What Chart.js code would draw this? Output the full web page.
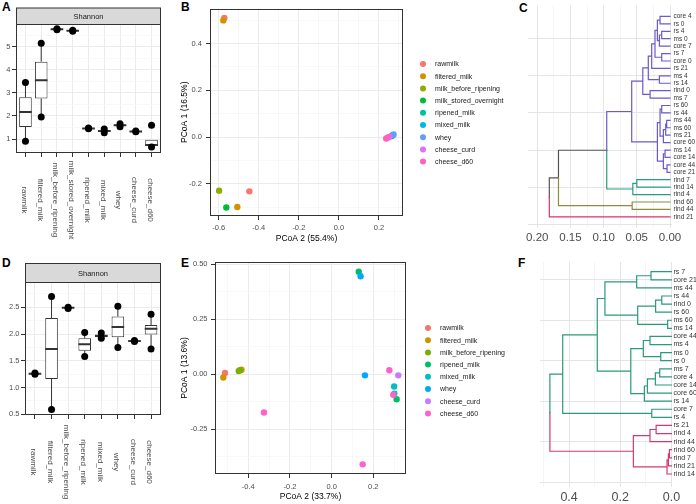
<!DOCTYPE html>
<html>
<head>
<meta charset="utf-8">
<script src="https://cdn.jsdelivr.net/npm/chart.js@4.4.0/dist/chart.umd.min.js"></script>
<style>
  body { margin: 0; width: 696px; height: 504px; position: relative; background: #fff; overflow: hidden;
         font-family: 'Liberation Sans', Arial, sans-serif; }
  canvas { position: absolute; }
  .tag { position: absolute; font-weight: bold; font-size: 12px; line-height: 1; color: #000; }
</style>
</head>
<body>
<div class="tag" style="left:2px;top:1px">A</div>
<div class="tag" style="left:181px;top:1px">B</div>
<div class="tag" style="left:519px;top:2px">C</div>
<div class="tag" style="left:2px;top:257px">D</div>
<div class="tag" style="left:181px;top:257px">E</div>
<div class="tag" style="left:518px;top:257px">F</div>

<canvas id="chartA" width="175" height="250" style="left:0;top:0"></canvas>
<canvas id="chartB" width="340" height="250" style="left:180px;top:0"></canvas>
<canvas id="chartC" width="186" height="250" style="left:510px;top:0"></canvas>
<canvas id="chartD" width="175" height="254" style="left:0;top:250px"></canvas>
<canvas id="chartE" width="340" height="254" style="left:180px;top:250px"></canvas>
<canvas id="chartF" width="186" height="254" style="left:510px;top:250px"></canvas>

<script>
// ---- A: Shannon, first sample set ----
const aGroups = ['rawmilk', 'filtered_milk', 'milk_before_ripening', 'milk_stored_overnight',
                 'ripened_milk', 'mixed_milk', 'whey', 'cheese_curd', 'cheese_d60'];
const aLow  = [0.90, 1.95, 5.73, 5.67, 1.44, 1.27, 1.53, 1.31, 0.66];
const aQ1   = [1.52, 2.75, 5.74, 5.68, 1.45, 1.31, 1.56, 1.32, 0.70];
const aMed  = [2.17, 3.55, 5.75, 5.69, 1.46, 1.35, 1.60, 1.33, 0.74];
const aQ3   = [2.81, 4.35, 5.76, 5.70, 1.47, 1.39, 1.63, 1.34, 0.97];
const aHigh = [3.45, 5.15, 5.77, 5.71, 1.48, 1.43, 1.66, 1.35, 0.97];
const aPoints = [[0.90, 3.45], [1.95, 5.15], [5.73, 5.77], [5.67, 5.71], [1.44, 1.48],
                 [1.27, 1.43], [1.53, 1.66], [1.31, 1.35], [0.66, 1.60]];
const aYMajor = [1, 2, 3, 4, 5];
const aYMinor = [0.5, 1.5, 2.5, 3.5, 4.5, 5.5];

// ---- D: Shannon, second sample set ----
const dGroups = ['rawmilk', 'filtered_milk', 'milk_before_ripening', 'ripened_milk',
                 'mixed_milk', 'whey', 'cheese_curd', 'cheese_d60'];
const dLow  = [1.25, 0.59, 2.48, 1.58, 1.92, 1.75, 1.86, 1.72];
const dQ1   = [1.255, 1.16, 2.485, 1.69, 1.94, 1.94, 1.865, 1.99];
const dMed  = [1.26, 1.72, 2.49, 1.81, 1.965, 2.13, 1.87, 2.10];
const dQ3   = [1.265, 2.30, 2.495, 1.92, 1.99, 2.33, 1.875, 2.17];
const dHigh = [1.27, 2.70, 2.50, 2.03, 2.02, 2.52, 1.88, 2.37];
const dPoints = [[1.25, 1.27], [0.59, 2.70], [2.48, 2.50], [1.58, 2.03],
                 [1.92, 2.02], [1.75, 2.52], [1.86, 1.88], [1.72, 2.37]];
const dYMajor = [0.5, 1.0, 1.5, 2.0, 2.5];
const dYMinor = [0.75, 1.25, 1.75, 2.25, 2.75];

// ---- B: PCoA, first sample set ----
const bGroups = ['rawmilk', 'filtered_milk', 'milk_before_ripening', 'milk_stored_overnight',
                 'ripened_milk', 'mixed_milk', 'whey', 'cheese_curd', 'cheese_d60'];
const bColors = ['#F8766D', '#D39200', '#93AA00', '#00BA38', '#00C19F', '#00B9E3', '#619CFF', '#DB72FB', '#FF61C3'];
const bPcoa2 = [[-0.572, -0.447], [-0.577, -0.507], [-0.598], [-0.562], [0.262], [0.268], [0.273], [0.252], [0.236, 0.245]];
const bPcoa1 = [[0.510, -0.232], [0.499, -0.299], [-0.229], [-0.301], [0.004], [0.008], [0.011], [0.001], [-0.006, -0.002]];
const bXMajor = [-0.6, -0.4, -0.2, 0.0, 0.2];
const bXMinor = [-0.5, -0.3, -0.1, 0.1, 0.3];
const bYMajor = [-0.2, 0.0, 0.2, 0.4];
const bYMinor = [-0.3, -0.1, 0.1, 0.3, 0.5];

// ---- E: PCoA, second sample set ----
const eGroups = ['rawmilk', 'filtered_milk', 'milk_before_ripening', 'ripened_milk',
                 'mixed_milk', 'whey', 'cheese_curd', 'cheese_d60'];
const eColors = ['#F8766D', '#CD9600', '#7CAE00', '#00BE67', '#00BFC4', '#00A9FF', '#C77CFF', '#FF61CC'];
const ePcoa2 = [[-0.512], [-0.520, -0.433], [-0.446, -0.440], [0.130, 0.312], [0.300, 0.301],
                [0.139, 0.160], [0.320], [-0.325, 0.149, 0.277, 0.296]];
const ePcoa1 = [[0.006], [-0.015, 0.021], [0.015, 0.018], [0.467, -0.114], [-0.056, -0.088],
                [0.446, -0.005], [-0.005], [-0.174, -0.410, 0.018, -0.093]];
const eXMajor = [-0.4, -0.2, 0.0, 0.2];
const eXMinor = [-0.5, -0.3, -0.1, 0.1, 0.3];
const eYMajor = [-0.25, 0.0, 0.25, 0.5];
const eYMinor = [-0.375, -0.125, 0.125, 0.375];

// ---- C: dendrogram, first set (leaves top to bottom) ----
const cLeaves = ['core 4', 'rs 0', 'rs 4', 'ms 0', 'core 7', 'rs 7', 'core 0', 'rs 21', 'ms 4', 'rs 14',
                 'rind 0', 'ms 7', 'rs 60', 'rs 44', 'ms 44', 'ms 60', 'ms 21', 'core 60', 'ms 14', 'core 14',
                 'core 44', 'core 21', 'rind 7', 'rind 14', 'rind 4', 'rind 60', 'rind 44', 'rind 21'];
const cCluster = [0, 0, 0, 0, 0, 0, 0, 0, 0, 0, 0, 0, 0, 0, 0, 0, 0, 0, 0, 0, 0, 0, 1, 1, 1, 2, 2, 3];
const cColors = ['#6A5ACD', '#2A9D7C', '#8C8C3E', '#E0306A'];
// [child, child, height]; a number refers to an earlier merge
const cMerges = [
  ['core 4', 'rs 0', 0.015], ['rs 4', 'ms 0', 0.0125], [1, 'core 7', 0.016], [0, 2, 0.019],
  ['rs 7', 'core 0', 0.0125], [3, 4, 0.0226], [5, 'rs 21', 0.0276], ['ms 4', 'rs 14', 0.016],
  [6, 7, 0.0327], ['rind 0', 'ms 7', 0.030], [8, 9, 0.041], ['rs 60', 'rs 44', 0.0125],
  ['ms 44', 'ms 60', 0.005], [12, 'ms 21', 0.0065], [13, 'core 60', 0.010], [11, 14, 0.015],
  ['ms 14', 'core 14', 0.0075], ['core 44', 'core 21', 0.0045], [16, 17, 0.010], [15, 18, 0.019],
  [10, 19, 0.0577], ['rind 7', 'rind 14', 0.050], [21, 'rind 4', 0.056], [20, 22, 0.0953],
  ['rind 60', 'rind 44', 0.057], [23, 24, 0.168], [25, 'rind 21', 0.1818]
];
const cXMajor = [0.0, 0.05, 0.10, 0.15, 0.20];
const cXMinor = [0.025, 0.075, 0.125, 0.175];

// ---- F: dendrogram, second set ----
const fLeaves = ['rs 7', 'core 21', 'ms 44', 'rs 44', 'rind 0', 'rs 60', 'ms 60', 'ms 14', 'core 44', 'ms 4',
                 'ms 0', 'rs 0', 'ms 7', 'core 4', 'core 14', 'core 60', 'rs 14', 'core 7', 'rs 4', 'rs 21',
                 'rind 4', 'rind 44', 'rind 60', 'rind 7', 'rind 21', 'rind 14'];
const fCluster = [0, 0, 0, 0, 0, 0, 0, 0, 0, 0, 0, 0, 0, 0, 0, 0, 0, 0, 0, 1, 1, 1, 1, 1, 1, 1];
const fColors = ['#2A9A7A', '#D13A70'];
const fMerges = [
  ['rs 7', 'core 21', 0.080], [0, 'ms 44', 0.136], ['rs 44', 'rind 0', 0.038], [2, 'rs 60', 0.062],
  ['ms 60', 'ms 14', 0.015], [3, 4, 0.132], [1, 5, 0.260], ['core 44', 'ms 4', 0.084],
  ['ms 0', 'rs 0', 0.042], [7, 8, 0.110], ['ms 7', 'core 4', 0.046], [10, 'core 14', 0.063],
  [11, 'core 60', 0.094], [12, 'rs 14', 0.106], [9, 13, 0.159], [6, 14, 0.290],
  ['core 7', 'rs 4', 0.077], [15, 16, 0.425], ['rs 21', 'rind 4', 0.060], [18, 'rind 44', 0.084],
  ['rind 60', 'rind 7', 0.008], [20, 'rind 21', 0.012], [21, 'rind 14', 0.0175], [19, 22, 0.149],
  [17, 23, 0.475]
];
const fXMajor = [0.0, 0.2, 0.4];
const fXMinor = [0.1, 0.3, 0.5];

Chart.defaults.font.family = "'Liberation Sans', Arial, sans-serif";
Chart.defaults.color = '#4D4D4D';
Chart.defaults.animation = false;
Chart.defaults.plugins.legend.display = false;
Chart.defaults.plugins.tooltip.enabled = false;

const GRID = '#EBEBEB';
const GRID_MINOR = '#F4F4F4';
const INK = '#333333';

function fixedTicks(major, minor) {
  const all = major.concat(minor).sort((a, b) => a - b);
  return scale => { scale.ticks = all.map(v => ({ value: v })); };
}

// panel frame on top of the data, like theme_bw
const panelBorder = {
  id: 'panelBorder',
  afterDatasetsDraw(chart) {
    const { ctx, chartArea: a } = chart;
    ctx.save();
    ctx.strokeStyle = INK;
    ctx.lineWidth = 1;
    const l = Math.round(a.left) + 0.5, t = Math.round(a.top) + 0.5;
    ctx.strokeRect(l, t, Math.round(a.right) - Math.round(a.left) - 1, Math.round(a.bottom) - Math.round(a.top) - 1);
    ctx.restore();
  }
};

const strip = {
  id: 'strip',
  afterDraw(chart, args, o) {
    const { ctx, chartArea: a } = chart;
    const l = Math.round(a.left) + 0.5, r = Math.round(a.right) - 0.5;
    const b = Math.round(a.top) + 0.5, t = b - o.height;
    ctx.save();
    ctx.fillStyle = '#D9D9D9';
    ctx.fillRect(l, t, r - l, b - t);
    ctx.strokeStyle = INK;
    ctx.lineWidth = 1;
    ctx.strokeRect(l, t, r - l, b - t);
    ctx.fillStyle = '#1A1A1A';
    ctx.font = "7.5px 'Liberation Sans', Arial, sans-serif";
    ctx.textAlign = 'center';
    ctx.textBaseline = 'middle';
    ctx.fillText(o.text, (l + r) / 2, (t + b) / 2 + 0.5);
    ctx.restore();
  }
};

// category names turned a quarter clockwise, centred under the panel
const rotLabels = {
  id: 'rotLabels',
  afterDraw(chart, args, o) {
    const { ctx, chartArea: a } = chart;
    const xs = chart.scales.x;
    ctx.save();
    ctx.font = "8px 'Liberation Sans', Arial, sans-serif";
    ctx.fillStyle = '#4D4D4D';
    ctx.textAlign = 'center';
    ctx.textBaseline = 'top';
    o.labels.forEach((t, i) => {
      ctx.save();
      ctx.translate(xs.getPixelForValue(i + 1) + 2.5, a.bottom + 47);
      ctx.rotate(Math.PI / 2);
      ctx.fillText(t, 0, 0);
      ctx.restore();
    });
    ctx.restore();
  }
};

const dotLegend = {
  id: 'dotLegend',
  afterDraw(chart, args, o) {
    const ctx = chart.ctx;
    ctx.save();
    ctx.font = "7px 'Liberation Sans', Arial, sans-serif";
    ctx.textAlign = 'left';
    ctx.textBaseline = 'middle';
    o.labels.forEach((t, i) => {
      const y = o.y + i * o.dy;
      ctx.fillStyle = o.colors[i];
      ctx.beginPath();
      ctx.arc(o.x, y, 3, 0, Math.PI * 2);
      ctx.fill();
      ctx.fillStyle = '#1A1A1A';
      ctx.fillText(t, o.tx, y + 0.5);
    });
    ctx.restore();
  }
};

function boxChart(id, groups, lo, q1, med, q3, hi, pts, o) {
  const half = o.boxW / 2;
  const whiskers = [], medians = [], boxes = [], dots = [];
  groups.forEach((g, i) => {
    const x = i + 1;
    whiskers.push({ x, y: lo[i] }, { x, y: q1[i] }, { x, y: null }, { x, y: q3[i] }, { x, y: hi[i] }, { x, y: null });
    medians.push({ x: x - half, y: med[i] }, { x: x + half, y: med[i] }, { x, y: null });
    boxes.push({ x, y: [q1[i], q3[i]] });
    pts[i].forEach(v => dots.push({ x, y: v }));
  });
  const isMajor = v => o.yMajor.includes(v);

  new Chart(document.getElementById(id), {
    type: 'scatter',
    data: {
      datasets: [
        { type: 'line', data: whiskers, borderColor: INK, borderWidth: 1, pointRadius: 0, spanGaps: false, order: 3 },
        { type: 'bar', data: boxes, backgroundColor: '#FFFFFF', borderColor: INK, borderWidth: 1,
          borderSkipped: false, categoryPercentage: o.boxW, barPercentage: 1, order: 2 },
        { type: 'line', data: medians, borderColor: INK, borderWidth: 2, pointRadius: 0, spanGaps: false, order: 1 },
        { type: 'scatter', data: dots, backgroundColor: '#000000', borderWidth: 0, pointRadius: 3.5, order: 0 }
      ]
    },
    options: {
      responsive: false,
      devicePixelRatio: 1,
      layout: { padding: o.padding },
      scales: {
        x: {
          type: 'linear', min: 0.4, max: groups.length + 0.6, bounds: 'data', offset: false,
          afterBuildTicks: s => { s.ticks = groups.map((g, i) => ({ value: i + 1 })); },
          afterFit: s => { s.height = 20; },
          grid: { color: GRID, offset: false, tickColor: INK, tickLength: 4, tickWidth: 1 },
          border: { display: false },
          ticks: { display: false, autoSkip: false }
        },
        y: {
          type: 'linear', min: o.yMin, max: o.yMax, bounds: 'data',
          afterBuildTicks: fixedTicks(o.yMajor, o.yMinor),
          afterFit: s => { s.width = o.yWidth; },
          grid: {
            color: c => isMajor(c.tick.value) ? GRID : GRID_MINOR,
            lineWidth: c => isMajor(c.tick.value) ? 1 : 0.6,
            tickColor: c => isMajor(c.tick.value) ? INK : 'rgba(0,0,0,0)',
            tickLength: 4, tickWidth: 1
          },
          border: { display: false },
          ticks: {
            autoSkip: false, padding: 1.5, font: { size: 7.5 }, color: '#4D4D4D',
            callback: v => isMajor(v) ? o.yFormat(v) : ''
          }
        }
      },
      plugins: {
        strip: { height: o.stripH, text: 'Shannon' },
        rotLabels: { labels: groups }
      }
    },
    plugins: [panelBorder, strip, rotLabels]
  });
}

function pcoaChart(id, groups, colors, xs, ys, o) {
  const datasets = groups.map((g, i) => ({
    label: g,
    data: xs[i].map((x, k) => ({ x, y: ys[i][k] })),
    backgroundColor: colors[i],
    borderWidth: 0,
    pointRadius: 3.2,
    order: -i
  }));
  const xMajor = v => o.xMajor.includes(v);
  const yMajor = v => o.yMajor.includes(v);

  new Chart(document.getElementById(id), {
    type: 'scatter',
    data: { datasets },
    options: {
      responsive: false,
      devicePixelRatio: 1,
      layout: { padding: o.padding },
      scales: {
        x: {
          type: 'linear', min: o.xMin, max: o.xMax, bounds: 'data',
          afterBuildTicks: fixedTicks(o.xMajor, o.xMinor),
          afterFit: s => { s.height = 28; },
          grid: {
            color: c => xMajor(c.tick.value) ? GRID : GRID_MINOR,
            lineWidth: c => xMajor(c.tick.value) ? 1 : 0.6,
            tickColor: c => xMajor(c.tick.value) ? INK : 'rgba(0,0,0,0)',
            tickLength: 4, tickWidth: 1
          },
          border: { display: false },
          ticks: { autoSkip: false, maxRotation: 0, padding: o.xPad, font: { size: 7.5 }, color: '#4D4D4D',
                   callback: v => xMajor(v) ? v.toFixed(1) : '' },
          title: { display: true, text: o.xTitle, color: '#000', font: { size: 8.5 }, padding: 0 }
        },
        y: {
          type: 'linear', min: o.yMin, max: o.yMax, bounds: 'data',
          afterBuildTicks: fixedTicks(o.yMajor, o.yMinor),
          afterFit: s => { s.width = o.yWidth; },
          grid: {
            color: c => yMajor(c.tick.value) ? GRID : GRID_MINOR,
            lineWidth: c => yMajor(c.tick.value) ? 1 : 0.6,
            tickColor: c => yMajor(c.tick.value) ? INK : 'rgba(0,0,0,0)',
            tickLength: 4, tickWidth: 1
          },
          border: { display: false },
          ticks: { autoSkip: false, padding: o.yPad, font: { size: 7.5 }, color: '#4D4D4D',
                   callback: v => yMajor(v) ? v.toFixed(o.yDec) : '' },
          title: { display: true, text: o.yTitle, color: '#000', font: { size: 8.5 }, padding: 0 }
        }
      },
      plugins: {
        dotLegend: { labels: groups, colors, x: o.legX, tx: o.legX + 12, y: o.legY, dy: 12.2 }
      }
    },
    plugins: [panelBorder, dotLegend]
  });
}

function dendroChart(id, leaves, cluster, colors, merges, o) {
  const n = leaves.length;
  const leafNode = {};
  leaves.forEach((name, i) => { leafNode[name] = { y: n - i, h: 0, g: cluster[i] }; });
  const nodes = [];
  const byColor = colors.map(() => []);
  const mixed = [];
  merges.forEach(([a, b, h]) => {
    const kids = [a, b].map(k => typeof k === 'number' ? nodes[k] : leafNode[k]);
    const y = (kids[0].y + kids[1].y) / 2;
    kids.forEach(k => {
      const list = k.g < 0 ? mixed : byColor[k.g];
      list.push({ x: h, y }, { x: h, y: k.y }, { x: k.h, y: k.y }, { x: h, y: null });
    });
    nodes.push({ y, h, g: kids[0].g === kids[1].g ? kids[0].g : -1 });
  });
  const lineStyle = { type: 'line', borderWidth: 1.2, pointRadius: 0, spanGaps: false,
                      borderCapStyle: 'square', borderJoinStyle: 'miter' };
  const datasets = colors.map((c, i) => Object.assign({ data: byColor[i], borderColor: c }, lineStyle));
  datasets.push(Object.assign({ data: mixed, borderColor: '#555555' }, lineStyle));
  const xMajor = v => o.xMajor.includes(v);

  new Chart(document.getElementById(id), {
    type: 'scatter',
    data: { datasets },
    options: {
      responsive: false,
      devicePixelRatio: 1,
      layout: { padding: o.padding },
      scales: {
        x: {
          type: 'linear', reverse: true, min: o.xMin, max: o.xMax, bounds: 'data',
          afterBuildTicks: fixedTicks(o.xMajor, o.xMinor),
          afterFit: s => { s.height = o.xHeight; },
          grid: {
            color: c => xMajor(c.tick.value) ? '#E5E5E5' : '#F0F0F0',
            lineWidth: c => xMajor(c.tick.value) ? 1 : 0.7,
            drawTicks: false
          },
          border: { display: false },
          ticks: { autoSkip: false, maxRotation: 0, padding: 3, font: { size: o.xFont }, color: '#4D4D4D',
                   callback: v => xMajor(v) ? v.toFixed(o.xDec) : '' }
        },
        y: {
          type: 'linear', position: 'right', min: o.yMin, max: o.yMax, bounds: 'data',
          afterBuildTicks: s => { s.ticks = [0].concat(leaves.map((l, i) => ({ value: n - i })).reverse()).map(t => typeof t === 'number' ? { value: t } : t); },
          afterFit: s => { s.width = 24; },
          grid: { color: c => c.tick.value % 5 === 0 ? '#E5E5E5' : 'rgba(0,0,0,0)', drawTicks: false },
          border: { display: false },
          ticks: { autoSkip: false, padding: 1.5, font: { size: o.leafFont }, color: '#333333',
                   callback: v => v >= 1 ? leaves[n - v] : '' }
        }
      }
    }
  });
}

boxChart('chartA', aGroups, aLow, aQ1, aMed, aQ3, aHigh, aPoints, {
  boxW: 0.8, yMin: 0.395, yMax: 5.98, yMajor: aYMajor, yMinor: aYMinor, yWidth: 16,
  yFormat: v => String(v), stripH: 16.5,
  padding: { left: 0, right: 14, top: 24, bottom: 77 }
});

boxChart('chartD', dGroups, dLow, dQ1, dMed, dQ3, dHigh, dPoints, {
  boxW: 0.76, yMin: 0.487, yMax: 2.973, yMajor: dYMajor, yMinor: dYMinor, yWidth: 25,
  yFormat: v => v.toFixed(1), stripH: 19,
  padding: { left: 0, right: 14, top: 32, bottom: 69 }
});

pcoaChart('chartB', bGroups, bColors, bPcoa2, bPcoa1, {
  xMin: -0.6435, xMax: 0.32, yMin: -0.3375, yMax: 0.55,
  xMajor: bXMajor, xMinor: bXMinor, yMajor: bYMajor, yMinor: bYMinor, yDec: 1,
  xTitle: 'PCoA 2 (55.4%)', yTitle: 'PCoA 1 (16.5%)', yWidth: 30, xPad: 3, yPad: 4,
  legX: 243, legY: 64,
  padding: { left: 0, right: 117, top: 3, bottom: 6 }
});

pcoaChart('chartE', eGroups, eColors, ePcoa2, ePcoa1, {
  xMin: -0.56, xMax: 0.357, yMin: -0.454, yMax: 0.511,
  xMajor: eXMajor, xMinor: eXMinor, yMajor: eYMajor, yMinor: eYMinor, yDec: 2,
  xTitle: 'PCoA 2 (33.7%)', yTitle: 'PCoA 1 (13.6%)', yWidth: 35, xPad: 4, yPad: 3.5,
  legX: 248, legY: 78,
  padding: { left: 0, right: 114, top: 12, bottom: 2 }
});

dendroChart('chartC', cLeaves, cCluster, cColors, cMerges, {
  xMin: -0.003, xMax: 0.2139, yMin: -0.507, yMax: 29.49,
  xMajor: cXMajor, xMinor: cXMinor, xDec: 2, xFont: 11.5, leafFont: 6.5, xHeight: 20,
  padding: { left: 18, right: 0, top: 3, bottom: 2 }
});

dendroChart('chartF', fLeaves, fCluster, fColors, fMerges, {
  xMin: -0.002, xMax: 0.5137, yMin: -0.607, yMax: 27.2,
  xMajor: fXMajor, xMinor: fXMinor, xDec: 1, xFont: 12.5, leafFont: 7, xHeight: 17,
  padding: { left: 30, right: 0, top: 12, bottom: 0 }
});
</script>
</body>
</html>
